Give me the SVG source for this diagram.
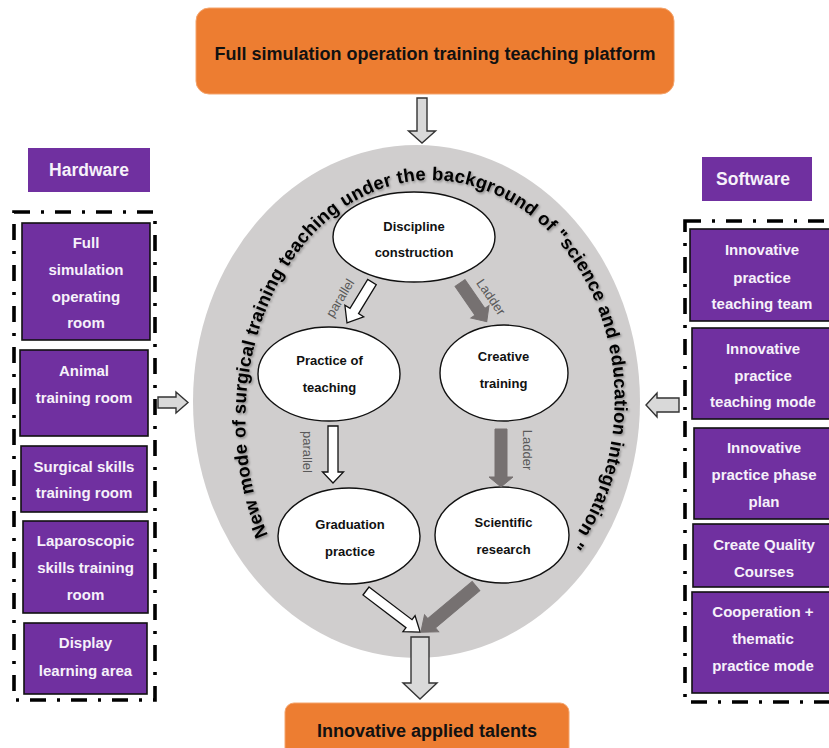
<svg xmlns="http://www.w3.org/2000/svg" width="829" height="748" viewBox="0 0 829 748">
<defs>
<style>
.orange{fill:#ED7D31;stroke:#F4A46C;stroke-width:1}
.otxt{font-family:"Liberation Sans",Arial,sans-serif;font-weight:bold;font-size:18px;fill:#111;text-anchor:middle}
.pbox{fill:#7030A0;stroke:#111;stroke-width:1.6}
.plabel{fill:#7030A0}
.ptxt{font-family:"Liberation Sans",Arial,sans-serif;font-weight:bold;font-size:15px;fill:#F6F1FA;text-anchor:middle}
.ltxt{font-family:"Liberation Sans",Arial,sans-serif;font-weight:bold;font-size:17.5px;fill:#F6F1FA;text-anchor:middle}
.dash{fill:none;stroke:#000;stroke-width:3.6;stroke-dasharray:16 11 3 11}
.node{fill:#fff;stroke:#111;stroke-width:1.4}
.ntxt{font-family:"Liberation Sans",Arial,sans-serif;font-weight:bold;font-size:13px;fill:#111;text-anchor:middle}
.warrow{fill:#fff;stroke:#111;stroke-width:1.3;stroke-linejoin:miter}
.garrow{fill:#767171;stroke:#767171;stroke-width:1}
.larrow{fill:#D9D9D9;stroke:#333;stroke-width:1.4}
.atxt{font-family:"Liberation Sans",Arial,sans-serif;font-size:13px;fill:#595959;text-anchor:middle}
.arc{font-family:"Liberation Sans",Arial,sans-serif;font-weight:bold;font-size:18.5px;fill:#000}
</style>
<filter id="sh" x="-10%" y="-10%" width="120%" height="120%">
<feDropShadow dx="1.2" dy="1.5" stdDeviation="1.2" flood-color="#000" flood-opacity="0.35"/>
</filter>
<path id="arcpath" d="M 268,535 A 185 240 0 0 1 430 180 A 185 220 0 0 1 565 550" fill="none"/>
</defs>

<rect width="829" height="748" fill="#fff"/>

<g id="platform">
<rect class="orange" x="196" y="8" width="478" height="86" rx="13"/>
<text class="otxt" x="435" y="59.5">Full simulation operation training teaching platform</text>
</g>

<g id="mode-ellipse">
<ellipse cx="416.5" cy="401.5" rx="223.5" ry="256.5" fill="#D0CECE"/>
<text class="arc" filter="url(#sh)"><textPath href="#arcpath" textLength="924" lengthAdjust="spacing">New mode of surgical training teaching under the background of "science and education integration "</textPath></text>
</g>

<g id="hardware">
<rect class="plabel" x="28" y="148" width="122" height="44"/>
<text class="ltxt" x="89" y="176">Hardware</text>
<rect class="dash" x="14" y="212" width="141" height="488"/>
</g>
<g id="hw1"><rect class="pbox" x="22" y="223" width="128" height="117"/>
<text class="ptxt" x="86" y="248">Full</text><text class="ptxt" x="86" y="275">simulation</text><text class="ptxt" x="86" y="302">operating</text><text class="ptxt" x="86" y="328">room</text></g>
<g id="hw2"><rect class="pbox" x="20" y="350" width="128" height="86"/>
<text class="ptxt" x="84" y="376">Animal</text><text class="ptxt" x="84" y="403">training room</text></g>
<g id="hw3"><rect class="pbox" x="21" y="446" width="126" height="66"/>
<text class="ptxt" x="84" y="472">Surgical skills</text><text class="ptxt" x="84" y="498">training room</text></g>
<g id="hw4"><rect class="pbox" x="23" y="521" width="125" height="92"/>
<text class="ptxt" x="85.5" y="546">Laparoscopic</text><text class="ptxt" x="85.5" y="573">skills training</text><text class="ptxt" x="85.5" y="600">room</text></g>
<g id="hw5"><rect class="pbox" x="24" y="623" width="123" height="71"/>
<text class="ptxt" x="85.5" y="648">Display</text><text class="ptxt" x="85.5" y="676">learning area</text></g>

<g id="software">
<rect class="plabel" x="702" y="157" width="110" height="44"/>
<text class="ltxt" x="753" y="185">Software</text>
<rect class="dash" x="685" y="221" width="160" height="481"/>
</g>
<g id="sw1"><rect class="pbox" x="690" y="229" width="145" height="92"/>
<text class="ptxt" x="762" y="255">Innovative</text><text class="ptxt" x="762" y="283">practice</text><text class="ptxt" x="762" y="309">teaching team</text></g>
<g id="sw2"><rect class="pbox" x="692" y="328" width="143" height="91"/>
<text class="ptxt" x="763" y="354">Innovative</text><text class="ptxt" x="763" y="381">practice</text><text class="ptxt" x="763" y="407">teaching mode</text></g>
<g id="sw3"><rect class="pbox" x="694" y="428" width="141" height="91"/>
<text class="ptxt" x="764" y="453">Innovative</text><text class="ptxt" x="764" y="480">practice phase</text><text class="ptxt" x="764" y="507">plan</text></g>
<g id="sw4"><rect class="pbox" x="693" y="524" width="142" height="63"/>
<text class="ptxt" x="764" y="550">Create Quality</text><text class="ptxt" x="764" y="577">Courses</text></g>
<g id="sw5"><rect class="pbox" x="692" y="592" width="143" height="101"/>
<text class="ptxt" x="763" y="617">Cooperation +</text><text class="ptxt" x="763" y="644">thematic</text><text class="ptxt" x="763" y="671">practice mode</text></g>

<g id="discipline"><ellipse class="node" cx="414" cy="237" rx="81" ry="45"/>
<text class="ntxt" x="414" y="230.5">Discipline</text><text class="ntxt" x="414" y="256.5">construction</text></g>
<g id="practice-teaching"><ellipse class="node" cx="329" cy="374" rx="71" ry="47"/>
<text class="ntxt" x="329.5" y="364.5">Practice of</text><text class="ntxt" x="329.5" y="391.5">teaching</text></g>
<g id="creative"><ellipse class="node" cx="504" cy="373" rx="64" ry="48"/>
<text class="ntxt" x="503.5" y="360.5">Creative</text><text class="ntxt" x="503.5" y="387.5">training</text></g>
<g id="graduation"><ellipse class="node" cx="349" cy="536" rx="71" ry="48"/>
<text class="ntxt" x="350" y="528.5">Graduation</text><text class="ntxt" x="350" y="556">practice</text></g>
<g id="scientific"><ellipse class="node" cx="502" cy="535" rx="67" ry="48"/>
<text class="ntxt" x="503.5" y="526.5">Scientific</text><text class="ntxt" x="503.5" y="553.5">research</text></g>

<g id="innovative-talents">
<rect class="orange" x="285" y="703" width="284" height="60" rx="9"/>
<text class="otxt" x="427" y="736.5">Innovative applied talents</text>
</g>

<g id="connectors">
<polygon class="larrow" points="0,-5 33,-5 33,-13.5 45,0 33,13.5 33,5 0,5" transform="translate(422,98) rotate(90)"/>
<polygon class="larrow" points="0,-9 46,-9 46,-17 62,0 46,17 46,9 0,9" transform="translate(420,637) rotate(90)"/>
<polygon class="larrow" points="0,-5.5 18,-5.5 18,-10.5 30,0 18,10.5 18,5.5 0,5.5" transform="translate(158,402.5)"/>
<polygon class="larrow" points="0,-7 22,-7 22,-12 33,0 22,12 22,7 0,7" transform="translate(679,405) rotate(180)"/>
<polygon class="warrow" points="0,-5 34,-5 34,-11 48,0 34,11 34,5 0,5" transform="translate(372,282) rotate(121.4)"/>
<polygon class="garrow" points="0,-6 35,-6 35,-11 47,0 35,11 35,6 0,6" transform="translate(460,283) rotate(55.3)"/>
<polygon class="warrow" points="0,-5 46,-5 46,-10.5 57,0 46,10.5 46,5 0,5" transform="translate(333,426) rotate(90)"/>
<polygon class="garrow" points="0,-6 48,-6 48,-12 58,0 48,12 48,6 0,6" transform="translate(501,429) rotate(90)"/>
<polygon class="warrow" points="0,-5 54,-5 54,-10 68,0 54,10 54,5 0,5" transform="translate(366,591) rotate(37.2)"/>
<polygon class="garrow" points="0,-6 58,-6 58,-11 72,0 58,11 58,6 0,6" transform="translate(476,586) rotate(140)"/>
<text class="atxt" transform="translate(340,298) rotate(-58.6)" y="4.5">parallel</text>
<text class="atxt" transform="translate(491,297) rotate(55.3)" y="4.5">Ladder</text>
<text class="atxt" transform="translate(307,452) rotate(90)" y="4.5">parallel</text>
<text class="atxt" transform="translate(527,450) rotate(90)" y="4.5">Ladder</text>
</g>
</svg>
